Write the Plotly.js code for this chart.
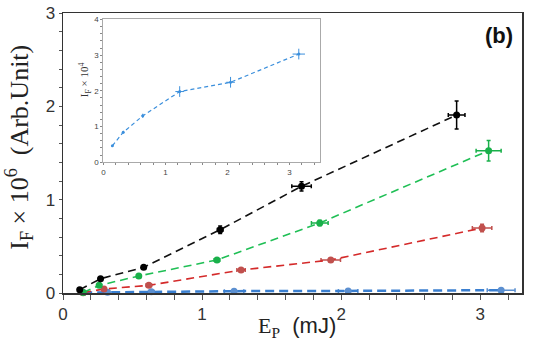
<!DOCTYPE html>
<html>
<head>
<meta charset="utf-8">
<script src="https://cdn.plot.ly/plotly-3.0.1.min.js"></script>
<style>html,body{margin:0;padding:0;background:#fff}#chart{width:538px;height:347px}</style>
</head>
<body>
<div id="chart"></div>
<script>
// pump energy (mJ) and fluorescence intensity (x10^6) per series
const blackX = [0.12, 0.27, 0.58, 1.13, 1.715, 2.83];
const blackY = [0.035, 0.153, 0.275, 0.678, 1.143, 1.907];
const blackEx = [0, 0.01, 0.01, 0.02, 0.07, 0.06];
const blackEy = [0.01, 0.015, 0.015, 0.04, 0.05, 0.15];

const greenX = [0.145, 0.26, 0.545, 1.107, 1.846, 3.06];
const greenY = [0.005, 0.082, 0.182, 0.354, 0.75, 1.525];
const greenEx = [0, 0.01, 0.01, 0.02, 0.06, 0.09];
const greenEy = [0.005, 0.01, 0.01, 0.015, 0.03, 0.11];

const redX = [0.145, 0.295, 0.617, 1.28, 1.925, 3.013];
const redY = [0.004, 0.043, 0.082, 0.246, 0.354, 0.696];
const redEx = [0, 0.01, 0.02, 0.03, 0.07, 0.07];
const redEy = [0.003, 0.008, 0.01, 0.012, 0.015, 0.04];

const blueX = [0.145, 0.32, 0.635, 1.23, 2.05, 3.15];
const blueY = [0.0046, 0.0084, 0.013, 0.0198, 0.0224, 0.0303];
const blueEx = [0.005, 0.01, 0.02, 0.07, 0.07, 0.1];

// inset: blue series in units of 10^4
const insetY = [0.46, 0.84, 1.30, 1.98, 2.24, 3.03];
const insetEy = [0.02, 0.04, 0.06, 0.15, 0.15, 0.15];

const mainTicks = [0, 1, 2, 3];

function series(x, y, ex, ey, lineColor, markColor, dash, lw) {
    return {
        type: 'scatter', mode: 'lines+markers', x: x, y: y,
        line: { color: lineColor, dash: dash, width: lw },
        marker: { color: markColor, size: 7 },
        error_x: { type: 'data', array: ex, visible: true, color: markColor, thickness: 1.5, width: 2 },
        error_y: { type: 'data', array: ey, visible: true, color: markColor, thickness: 1.5, width: 2 },
        showlegend: false, cliponaxis: false
    };
}

const data = [
    series(blueX, blueY, blueEx, blueX.map(() => 0), '#3a7fd0', '#5b8fd0', '9px,5px', 2.5),
    series(redX, redY, redEx, redEy, '#d42a2a', '#c0504d', '8px,5px', 1.6),
    series(greenX, greenY, greenEx, greenEy, '#1fbf55', '#19b04a', '8px,5px', 1.6),
    series(blackX, blackY, blackEx, blackEy, '#111', '#000', '8px,5px', 1.6),
    {
        type: 'scatter', mode: 'lines+markers', x: blueX, y: insetY,
        xaxis: 'x2', yaxis: 'y2',
        line: { color: '#3b8fdc', dash: '4px,3px', width: 1.2 },
        marker: { color: '#3b8fdc', size: 3 },
        error_x: { type: 'data', array: blueEx, visible: true, color: '#3b8fdc', thickness: 1, width: 0 },
        error_y: { type: 'data', array: insetEy, visible: true, color: '#3b8fdc', thickness: 1, width: 0 },
        showlegend: false
    }
];

const layout = {
    width: 538, height: 347,
    margin: { l: 63, r: 16, t: 13, b: 54 },
    paper_bgcolor: '#fff', plot_bgcolor: '#fff',
    font: { family: 'Arial, Liberation Sans, sans-serif', color: '#333' },
    xaxis: {
        range: [0, 3.3], tickvals: mainTicks, showgrid: false, zeroline: false,
        showline: true, linecolor: '#333', linewidth: 1.5, mirror: true,
        ticks: 'outside', ticklen: 5, tickcolor: '#555',
        minor: { dtick: 0.2, ticks: 'outside', ticklen: 5, tickcolor: '#555' },
        tickfont: { size: 17, color: '#333' }
    },
    yaxis: {
        range: [0, 3], tickvals: mainTicks, showgrid: false, zeroline: false,
        showline: true, linecolor: '#333', linewidth: 1.5, mirror: true,
        ticks: 'outside', ticklen: 3, tickcolor: '#555',
        minor: { dtick: 0.2, ticks: 'outside', ticklen: 3, tickcolor: '#555' },
        tickfont: { size: 17, color: '#333' }
    },
    xaxis2: {
        domain: [0.088, 0.561], anchor: 'y2', range: [0, 3.5], dtick: 1,
        showgrid: false, zeroline: false, showline: true, linecolor: '#aaa', linewidth: 1, mirror: true,
        ticks: 'outside', ticklen: 2, tickcolor: '#888',
        minor: { dtick: 0.2, ticks: 'outside', ticklen: 2, tickcolor: '#888' },
        tickfont: { size: 8, color: '#444', family: 'Arial Black, Arial, sans-serif' }
    },
    yaxis2: {
        domain: [0.467, 0.977], anchor: 'x2', range: [0, 4], dtick: 1,
        showgrid: false, zeroline: false, showline: true, linecolor: '#aaa', linewidth: 1, mirror: true,
        ticks: 'outside', ticklen: 2, tickcolor: '#888',
        minor: { dtick: 0.2, ticks: 'outside', ticklen: 2, tickcolor: '#888' },
        tickfont: { size: 8, color: '#444', family: 'Arial Black, Arial, sans-serif' }
    },
    annotations: [
        {
            xref: 'paper', yref: 'paper', x: -0.095, y: 0.52, xanchor: 'center', yanchor: 'middle',
            textangle: -90, showarrow: false,
            text: 'I<sub>F</sub> × 10<sup>6</sup>  (Arb.Unit)',
            font: { family: 'Liberation Serif, Times New Roman, serif', size: 26, color: '#222' }
        },
        {
            xref: 'paper', yref: 'paper', x: 0.51, y: -0.12, xanchor: 'center', yanchor: 'middle',
            showarrow: false,
            text: '<span style="font-family:Liberation Serif, serif">E<sub>P</sub></span>  (mJ)',
            font: { family: 'Arial, Liberation Sans, sans-serif', size: 22, color: '#222' }
        },
        {
            xref: 'paper', yref: 'paper', x: 0.985, y: 0.97, xanchor: 'right', yanchor: 'top',
            showarrow: false, text: '<b>(b)</b>',
            font: { family: 'Arial, Liberation Sans, sans-serif', size: 22, color: '#111' }
        },
        {
            xref: 'paper', yref: 'paper', x: 0.048, y: 0.76, xanchor: 'center', yanchor: 'middle',
            textangle: -90, showarrow: false,
            text: 'I<sub>F</sub> × 10<sup>4</sup>',
            font: { family: 'Liberation Serif, Times New Roman, serif', size: 11, color: '#333' }
        }
    ]
};

Plotly.newPlot('chart', data, layout, { displayModeBar: false, staticPlot: true });
</script>
</body>
</html>
